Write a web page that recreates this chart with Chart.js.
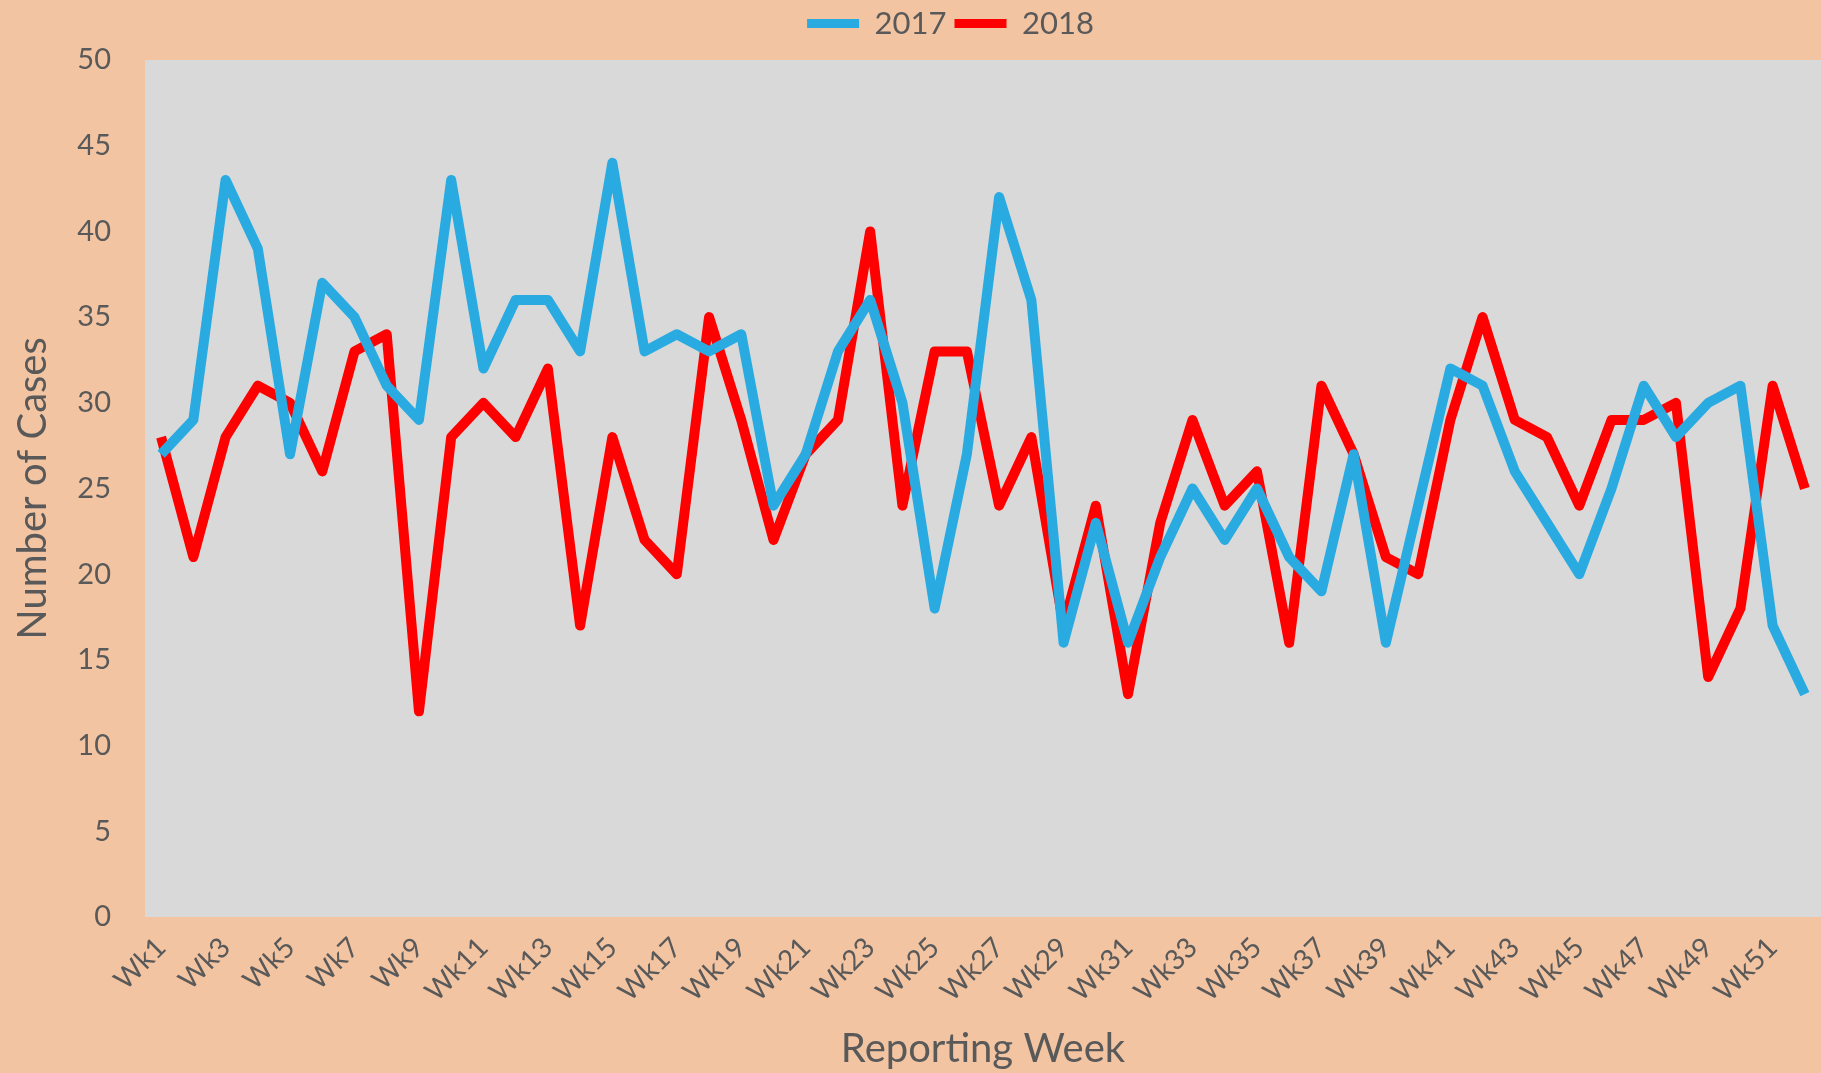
<!DOCTYPE html>
<html>
<head>
<meta charset="utf-8">
<title>Number of Cases by Reporting Week</title>
<script src="https://cdn.jsdelivr.net/npm/chart.js@4.4.1/dist/chart.umd.min.js"></script>
<style>
    html, body { margin: 0; padding: 0; background: #F2C4A2; }
    #wrap { position: relative; width: 1821px; height: 1073px; }
</style>
</head>
<body>
<div id="wrap"><canvas id="chartCases"></canvas></div>
<script>
// ===== Data =====
const weeks = [
    'Wk1', 'Wk2', 'Wk3', 'Wk4', 'Wk5', 'Wk6', 'Wk7', 'Wk8', 'Wk9', 'Wk10',
    'Wk11', 'Wk12', 'Wk13', 'Wk14', 'Wk15', 'Wk16', 'Wk17', 'Wk18', 'Wk19', 'Wk20',
    'Wk21', 'Wk22', 'Wk23', 'Wk24', 'Wk25', 'Wk26', 'Wk27', 'Wk28', 'Wk29', 'Wk30',
    'Wk31', 'Wk32', 'Wk33', 'Wk34', 'Wk35', 'Wk36', 'Wk37', 'Wk38', 'Wk39', 'Wk40',
    'Wk41', 'Wk42', 'Wk43', 'Wk44', 'Wk45', 'Wk46', 'Wk47', 'Wk48', 'Wk49', 'Wk50',
    'Wk51', 'Wk52'
];

const cases2017 = [
    27, 29, 43, 39, 27, 37, 35, 31, 29, 43,
    32, 36, 36, 33, 44, 33, 34, 33, 34, 24,
    27, 33, 36, 30, 18, 27, 42, 36, 16, 23,
    16, 21, 25, 22, 25, 21, 19, 27, 16, 24,
    32, 31, 26, 23, 20, 25, 31, 28, 30, 31,
    17, 13
];

const cases2018 = [
    28, 21, 28, 31, 30, 26, 33, 34, 12, 28,
    30, 28, 32, 17, 28, 22, 20, 35, 29, 22,
    27, 29, 40, 24, 33, 33, 24, 28, 17, 24,
    13, 23, 29, 24, 26, 16, 31, 27, 21, 20,
    29, 35, 29, 28, 24, 29, 29, 30, 14, 18,
    31, 25
];

const yTicks = [0, 5, 10, 15, 20, 25, 30, 35, 40, 45, 50];

document.addEventListener('DOMContentLoaded', () => {
    const canvas = document.getElementById('chartCases');
    const textColor = '#595959';
    const fontFamily = 'Lato, "Open Sans", sans-serif';

    // gray plot area + peach page
    const plotBg = {
        id: 'plotBg',
        beforeDraw(chart) {
            const { ctx, chartArea: a } = chart;
            ctx.save();
            ctx.fillStyle = '#F2C4A2';
            ctx.fillRect(0, 0, chart.width, chart.height);
            ctx.fillStyle = '#D9D9D9';
            ctx.fillRect(a.left, a.top, a.right - a.left, a.bottom - a.top);
            ctx.restore();
        }
    };

    // legend: fixed height, and nudged a bit right like in the source
    const legendPlace = {
        id: 'legendPlace',
        beforeInit(chart) {
            const fit = chart.legend.fit;
            chart.legend.fit = function () {
                fit.bind(this)();
                this.height = 60;
            };
        },
        afterLayout(chart) {
            chart.legend.left = 80;
        }
    };

    new Chart(canvas.getContext('2d'), {
        type: 'line',
        data: {
            labels: weeks,
            datasets: [
                {
                    label: '2017',
                    data: cases2017,
                    borderColor: '#29ABE2',
                    backgroundColor: '#29ABE2',
                    borderWidth: 10,
                    pointRadius: 0,
                    tension: 0,
                    borderJoinStyle: 'round'
                },
                {
                    label: '2018',
                    data: cases2018,
                    borderColor: '#FF0000',
                    backgroundColor: '#FF0000',
                    borderWidth: 10,
                    pointRadius: 0,
                    tension: 0,
                    borderJoinStyle: 'round'
                }
            ]
        },
        options: {
            responsive: true,
            maintainAspectRatio: false,
            animation: false,
            layout: { padding: 0 },
            plugins: {
                legend: {
                    position: 'top',
                    labels: {
                        color: textColor,
                        font: { family: fontFamily, size: 31, lineHeight: 1 },
                        boxWidth: 52,
                        boxHeight: 9,
                        padding: 8,
                        generateLabels(chart) {
                            return chart.data.datasets.map((ds, i) => ({
                                text: ds.label,
                                fillStyle: ds.borderColor,
                                strokeStyle: ds.borderColor,
                                lineWidth: 0,
                                fontColor: textColor,
                                datasetIndex: i,
                                hidden: false
                            }));
                        }
                    }
                },
                tooltip: { enabled: false }
            },
            scales: {
                x: {
                    offset: true,
                    grid: { display: false, drawTicks: false },
                    border: { display: false },
                    afterFit(scale) {
                        scale.height = 156;
                        scale.paddingRight = 0;
                        scale.paddingLeft = 0;
                    },
                    ticks: {
                        autoSkip: false,
                        maxRotation: 45,
                        minRotation: 45,
                        padding: 14,
                        color: textColor,
                        font: { family: fontFamily, size: 28 },
                        callback(value, index) {
                            return index % 2 === 0 ? weeks[index] : '';
                        }
                    },
                    title: {
                        display: true,
                        text: 'Reporting Week',
                        color: textColor,
                        font: { family: fontFamily, size: 40 },
                        padding: { top: 0, bottom: 0 }
                    }
                },
                y: {
                    min: 0,
                    max: 50,
                    grid: { display: false, drawTicks: false },
                    border: { display: false },
                    afterFit(scale) { scale.width = 145; },
                    afterBuildTicks(scale) {
                        scale.ticks = yTicks.map(v => ({ value: v }));
                    },
                    ticks: {
                        padding: 34,
                        color: textColor,
                        font: { family: fontFamily, size: 29 }
                    },
                    title: {
                        display: true,
                        text: 'Number of Cases',
                        color: textColor,
                        font: { family: fontFamily, size: 40 },
                        padding: { top: 9, bottom: 0 }
                    }
                }
            }
        },
        plugins: [plotBg, legendPlace]
    });
});
</script>
</body>
</html>
